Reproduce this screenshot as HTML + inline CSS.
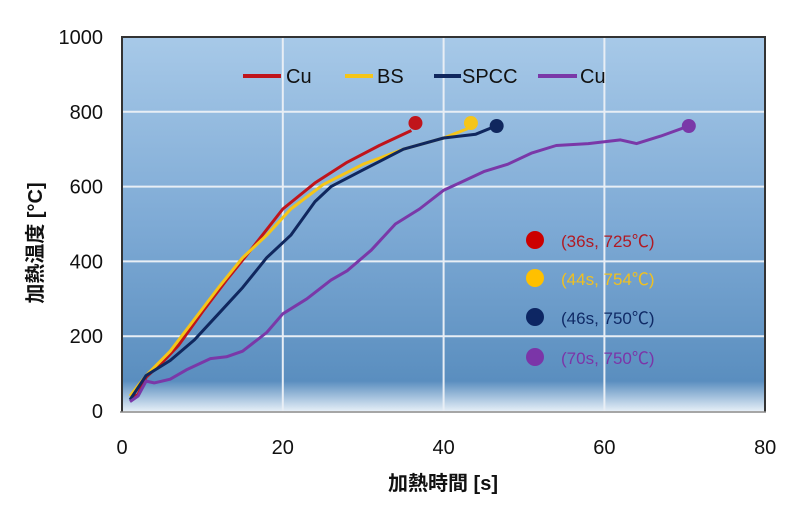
<!DOCTYPE html>
<html><head><meta charset="utf-8"><style>
body{margin:0;background:#fff;width:809px;height:513px;overflow:hidden}
svg text{font-family:"Liberation Sans","Noto Sans CJK JP",sans-serif}
</style></head><body>
<svg id="chart" width="809" height="513" xmlns="http://www.w3.org/2000/svg">
<defs>
<linearGradient id="bg" x1="0" y1="0" x2="0" y2="1">
<stop offset="0" stop-color="#a7c9e8"/><stop offset="0.5" stop-color="#7eaad5"/><stop offset="0.92" stop-color="#5a8ebf"/><stop offset="1" stop-color="#e4eef7"/>
</linearGradient>
</defs>
<rect x="122" y="37" width="643" height="374" fill="url(#bg)"/>
<g id="grid"></g>
<path d="M122,412 L122,37 L765,37 L765,412" fill="none" stroke="#333" stroke-width="2"/>
<line x1="120" y1="412" x2="766" y2="412" stroke="#888" stroke-width="1.5"/>
<g id="ticks"></g>
<g id="series"></g>
<g font-size="20">
<line x1="243" y1="76" x2="281" y2="76" stroke="#c0141b" stroke-width="4"/><text x="286" y="83" fill="#111">Cu</text>
<line x1="345" y1="76" x2="373" y2="76" stroke="#f5c518" stroke-width="4"/><text x="377" y="83" fill="#111">BS</text>
<line x1="434" y1="76" x2="461" y2="76" stroke="#10275e" stroke-width="4"/><text x="462" y="83" fill="#111">SPCC</text>
<line x1="538" y1="76" x2="577" y2="76" stroke="#7a38a8" stroke-width="4"/><text x="580" y="83" fill="#111">Cu</text>
</g>
<g font-size="17">
<circle cx="535" cy="240" r="9" fill="#cc0000"/><text x="561" y="247" fill="#b01a24">(36s, 725℃)</text>
<circle cx="535" cy="278" r="9" fill="#ffc000"/><text x="561" y="285" fill="#f0c020">(44s, 754℃)</text>
<circle cx="535" cy="317" r="9" fill="#0d2663"/><text x="561" y="324" fill="#102a66">(46s, 750℃)</text>
<circle cx="535" cy="357" r="9" fill="#7b35a8"/><text x="561" y="364" fill="#7b35a8">(70s, 750℃)</text>
</g>
<text transform="translate(42,243) rotate(-90)" text-anchor="middle" font-size="20" font-weight="bold" fill="#111">加熱温度 [°C]</text>
<text x="443" y="490" text-anchor="middle" font-size="20" font-weight="bold" fill="#111">加熱時間 [s]</text>
</svg>
<script>
const xTicks=[0,20,40,60,80];
const yTicks=[0,200,400,600,800,1000];
const seriesNames=["Cu","BS","SPCC","Cu-2"];
const seriesColors=["#c0141b","#f5c518","#10275e","#7a38a8"];
const cuT=[1,2,3,5,7,10,13,16,20,24,28,32,36];
const cuV=[30,45,90,130,175,265,350,430,540,610,665,710,750];
const bsT=[1,3,6,9,12,15,18,21,25,30,35,40,43];
const bsV=[40,95,160,245,330,410,470,540,605,660,700,730,755];
const spT=[1,3,6,9,12,15,18,21,24,26,30,35,40,44,46.5];
const spV=[30,95,135,190,260,330,410,470,560,600,645,700,730,740,762];
const cu2T=[1,2,3,4,6,8,11,13,15,18,20,23,26,28,31,34,37,40,42,45,48,51,54,58,62,64,67,70.5];
const cu2V=[25,40,80,75,85,110,140,145,160,210,260,300,350,375,430,500,540,590,610,640,660,690,710,715,725,715,735,762];
const endT=[36.5,43.4,46.6,70.5];
const endV=[770,770,762,762];
const X=t=>122+t*8.04;
const Y=v=>411-v*0.374;
const NS="http://www.w3.org/2000/svg";
const grid=document.getElementById('grid'),ticks=document.getElementById('ticks'),ser=document.getElementById('series');
function mk(tag,attrs,parent){const e=document.createElementNS(NS,tag);for(const k in attrs)e.setAttribute(k,attrs[k]);parent.appendChild(e);return e;}
xTicks.forEach(t=>{
 if(t>0&&t<80){const l=mk('line',{x1:X(t),x2:X(t),y1:37,y2:411,stroke:'#e8eef5','stroke-width':2},grid);
 
 }
 const tx=mk('text',{x:X(t),y:454,'text-anchor':'middle','font-size':20,fill:'#111'},ticks);tx.textContent=t;
 
 
});
yTicks.forEach(v=>{
 if(v>0&&v<1000){const l=mk('line',{x1:122,x2:765,y1:Y(v),y2:Y(v),stroke:'#e8eef5','stroke-width':2},grid);
 
 }
 const tx=mk('text',{x:103,y:Y(v)+7,'text-anchor':'end','font-size':20,fill:'#111'},ticks);tx.textContent=v;
 
 
});
const all=[[cuT,cuV],[bsT,bsV],[spT,spV],[cu2T,cu2V]];
all.forEach((s,i)=>{
 const d=s[0].map((t,j)=>(j?'L':'M')+X(t).toFixed(1)+','+Y(s[1][j]).toFixed(1)).join(' ');
 const p=mk('path',{d:d,fill:'none',stroke:seriesColors[i],'stroke-width':3,'stroke-linejoin':'round'},ser);
 
 
 const c=mk('circle',{cx:X(endT[i]),cy:Y(endV[i]),r:7,fill:seriesColors[i]},ser);
 
 
});
</script>
</body></html>
